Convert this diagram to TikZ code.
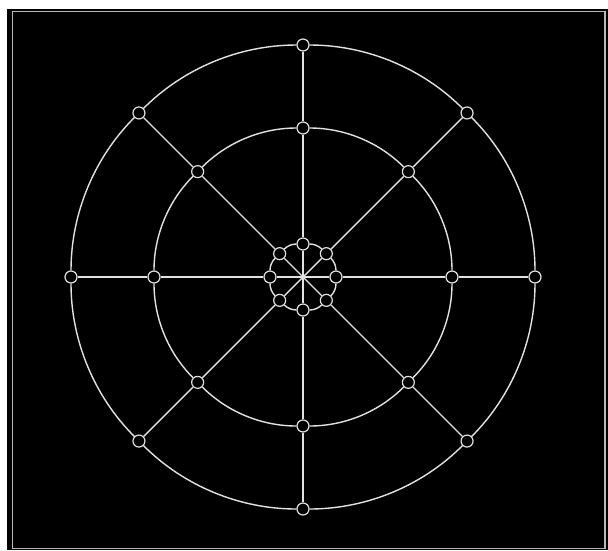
\documentclass[tikz,border=0pt]{standalone}
\usepackage{tikz}

\definecolor{rim}{HTML}{E2E2E2}
\definecolor{frame}{HTML}{B8B8B8}

\begin{document}
\begin{tikzpicture}[x=1pt, y=-1pt,
    hub/.style={circle, draw=rim, fill=black, line width=1.2pt, minimum size=12pt, inner sep=0pt},
    wire/.style={draw=rim, line width=1.4pt},
    ringarc/.style={bend left=22.5, looseness=0.88},
]

\useasboundingbox (0,0) rectangle (608,550);
\fill[white] (0,0) rectangle (608,550);
\fill[black] (7,9) rectangle (608,550);
\draw[frame, line width=1.4pt] (12.5,11.5) rectangle (605,548.5);

\coordinate (c) at (303,277);

% three rings of eight hubs
\foreach \i in {0,...,7} {
  \pgfmathsetmacro{\a}{45*\i}
  \node[hub] (outer\i) at ([shift={(\a:232)}]c) {};
  \node[hub] (mid\i) at ([shift={(\a:149)}]c) {};
  \node[hub] (inner\i) at ([shift={(\a:33)}]c) {};
}

% spokes
\foreach \i in {0,...,7} {
  \draw[wire] (outer\i) -- (mid\i);
  \draw[wire] (mid\i) -- (inner\i);
  \draw[wire] (inner\i) -- (c);
}

% ring arcs
\foreach \i [evaluate=\i as \j using {int(mod(\i+1,8))}] in {0,...,7} {
  \draw[wire] (outer\i) to[ringarc] (outer\j);
  \draw[wire] (mid\i) to[ringarc] (mid\j);
  \draw[wire] (inner\i) to[ringarc] (inner\j);
}

\end{tikzpicture}
\end{document}
